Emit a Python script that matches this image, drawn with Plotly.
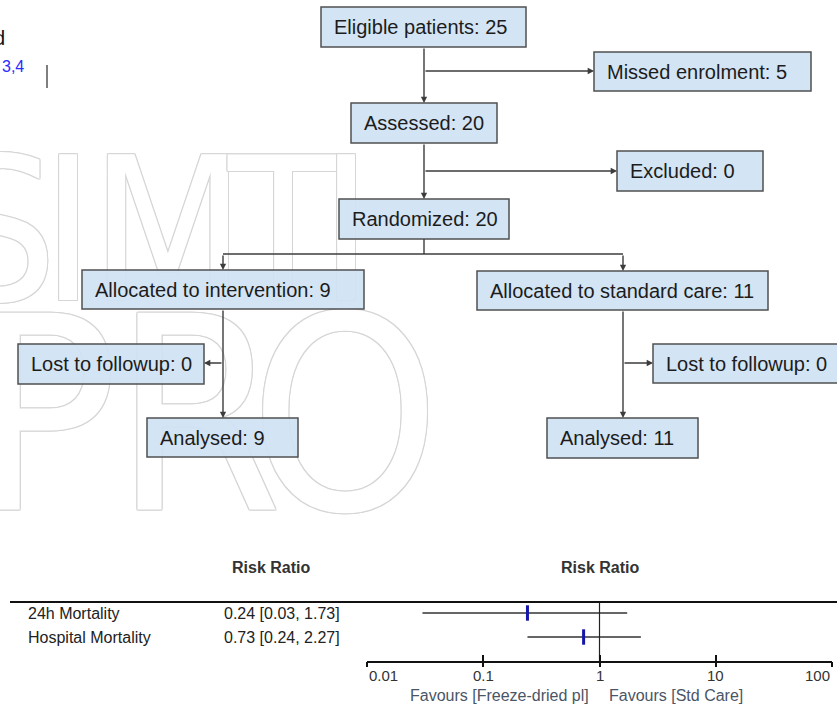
import math
import plotly.graph_objects as go

W, H = 837, 705

# ---------------- data ----------------
flow_labels = ["Eligible patients", "Missed enrolment", "Assessed", "Excluded",
               "Randomized", "Allocated to intervention", "Allocated to standard care",
               "Lost to followup", "Lost to followup", "Analysed", "Analysed"]
flow_counts = [25, 5, 20, 0, 20, 9, 11, 0, 0, 9, 11]

studies = ["24h Mortality", "Hospital Mortality"]
rr = [0.24, 0.73]
ci_lo = [0.03, 0.24]
ci_hi = [1.73, 2.27]

tick_vals = [0.01, 0.1, 1, 10, 100]
tick_text = ["0.01", "0.1", "1", "10", "100"]

watermark_words = ["SIMTI", "PRO"]

# ---------------- layout geometry (pixels) ----------------
boxes = [
    (321, 7, 526, 47),
    (594, 52, 811, 91),
    (351, 103, 497, 143),
    (617, 151, 763, 191),
    (339, 199, 509, 239),
    (82, 270, 364, 309),
    (477, 271, 768, 310),
    (18, 344, 204, 384),
    (653, 344, 850, 383),
    (147, 418, 298, 457),
    (547, 418, 698, 458),
]

def px(x):
    return x / W

def py(y):
    return 1 - y / H

fig = go.Figure()

# ---------- watermark (drawn under the boxes) ----------
wm_color = "#d6d6d6"
shadow = ", ".join(f"{dx}px {dy}px 0 {wm_color}" for dx, dy in
                   [(1, 0), (-1, 0), (0, 1), (0, -1), (1, 1), (-1, -1), (1, -1), (-1, 1)])
wm_letter_x = [[0, 68, 168, 283, 346], [45, 198, 345]]
wm_y = [250, 442]
wm_size = [200, 270]
for word, xs, yc, sz in zip(watermark_words, wm_letter_x, wm_y, wm_size):
    fig.add_trace(go.Scatter(
        x=xs, y=[yc] * len(xs), text=list(word), mode="text",
        textposition="middle center",
        textfont=dict(size=sz, color="white", shadow=shadow,
                      family="Liberation Sans Narrow, DejaVu Sans Condensed, Liberation Sans"),
        hoverinfo="skip", showlegend=False, xaxis="x", yaxis="y"))

# ---------- flow boxes ----------
shapes = []
annotations = []
box_fill = "rgba(207,226,243,0.92)"
box_line = "#505050"
for (x0, y0, x1, y1), lab, n in zip(boxes, flow_labels, flow_counts):
    shapes.append(dict(type="rect", xref="x", yref="y", x0=x0, y0=y0, x1=x1, y1=y1,
                       fillcolor=box_fill, line=dict(color=box_line, width=1.5), layer="above"))
    annotations.append(dict(xref="x", yref="y", x=x0 + 11, y=(y0 + y1) / 2,
                            text=f"{lab}: {n}", showarrow=False, xanchor="left", yanchor="middle",
                            font=dict(family="Liberation Sans, Arial", size=20, color="#1c1c1c")))

line_col = "#3c3c3c"

def seg(x0, y0, x1, y1):
    shapes.append(dict(type="line", xref="x", yref="y", x0=x0, y0=y0, x1=x1, y1=y1,
                       line=dict(color=line_col, width=1.4), layer="above"))

def arrow(x0, y0, x1, y1):
    annotations.append(dict(xref="x", yref="y", axref="x", ayref="y", x=x1, y=y1, ax=x0, ay=y0,
                            text="", showarrow=True, arrowhead=2, arrowsize=0.9, arrowwidth=1.4,
                            arrowcolor=line_col, standoff=0, startstandoff=0))

arrow(424, 47, 424, 103)
arrow(424, 71, 594, 71)
arrow(424, 143, 424, 199)
arrow(424, 171, 617, 171)
seg(424, 239, 424, 254)
seg(223, 254, 623, 254)
arrow(223, 254, 223, 270)
arrow(623, 254, 623, 271)
arrow(223, 309, 223, 418)
arrow(223, 363, 204, 363)
arrow(623, 310, 623, 418)
arrow(623, 363, 653, 363)

# cropped text fragments at top-left
annotations.append(dict(xref="paper", yref="paper", x=px(7), y=py(38), text="d", showarrow=False,
                        xanchor="right", yanchor="middle",
                        font=dict(family="Liberation Sans, Arial", size=20, color="#111")))
annotations.append(dict(xref="paper", yref="paper", x=px(0), y=py(66), text="3,4", showarrow=False,
                        xanchor="left", yanchor="middle",
                        font=dict(family="Liberation Sans, Arial", size=16, color="#2a2aff")))
shapes.append(dict(type="line", xref="paper", yref="paper", x0=px(47), x1=px(47), y0=py(65), y1=py(88),
                   line=dict(color="#555", width=1.5)))

# ---------------- forest plot ----------------
fx0, fx1 = 367, 832
fy_top, fy_axis = 602, 661
row_y = [613, 637]
step = row_y[1] - row_y[0]
r_bottom = (fy_axis - row_y[0]) / step
r_top = (fy_top - row_y[0]) / step

ci_x, ci_y = [], []
for i, (lo, hi) in enumerate(zip(ci_lo, ci_hi)):
    ci_x += [lo, hi, None]
    ci_y += [i, i, None]
fig.add_trace(go.Scatter(x=ci_x, y=ci_y, mode="lines", line=dict(color="#333", width=1.5),
                         xaxis="x2", yaxis="y2", showlegend=False, hoverinfo="skip"))
fig.add_trace(go.Scatter(x=[1, 1], y=[r_top, r_bottom], mode="lines", line=dict(color="#222", width=1.2),
                         xaxis="x2", yaxis="y2", showlegend=False, hoverinfo="skip"))
fig.add_trace(go.Scatter(x=rr, y=list(range(len(rr))), mode="markers",
                         marker=dict(symbol="line-ns", size=11, line=dict(color="#1515a8", width=3)),
                         xaxis="x2", yaxis="y2", showlegend=False, hoverinfo="skip"))

txt_font = dict(family="Liberation Sans, Arial", size=16, color="#222")
for i, (s, r, lo, hi) in enumerate(zip(studies, rr, ci_lo, ci_hi)):
    annotations.append(dict(xref="paper", yref="y2", x=px(26), y=i, text=s, showarrow=False,
                            xanchor="left", yanchor="middle", font=txt_font))
    annotations.append(dict(xref="paper", yref="y2", x=px(222), y=i,
                            text=f"{r:.2f} [{lo:.2f}, {hi:.2f}]", showarrow=False,
                            xanchor="left", yanchor="middle", font=txt_font))

hdr_font = dict(family="Liberation Sans, Arial", size=16, color="#333")
annotations.append(dict(xref="paper", yref="paper", x=px(271), y=py(567), text="<b>Risk Ratio</b>",
                        showarrow=False, xanchor="center", yanchor="middle", font=hdr_font))
annotations.append(dict(xref="x2", yref="paper", x=0, y=py(567), text="<b>Risk Ratio</b>",
                        showarrow=False, xanchor="center", yanchor="middle", font=hdr_font))

for k, (tv, tt) in enumerate(zip(tick_vals, tick_text)):
    anchor = "left" if k == 0 else ("right" if k == len(tick_vals) - 1 else "center")
    annotations.append(dict(xref="x2", yref="paper", x=math.log10(tv), y=py(675), text=tt,
                            showarrow=False, xanchor=anchor, yanchor="middle",
                            font=dict(family="Liberation Sans, Arial", size=15, color="#333")))

fav_font = dict(family="Liberation Sans, Arial", size=16, color="#4a5566")
annotations.append(dict(xref="paper", yref="paper", x=px(591), y=py(695),
                        text="Favours [Freeze-dried pl]", showarrow=False,
                        xanchor="right", yanchor="middle", font=fav_font))
annotations.append(dict(xref="paper", yref="paper", x=px(607), y=py(695),
                        text="Favours [Std Care]", showarrow=False,
                        xanchor="left", yanchor="middle", font=fav_font))

shapes.append(dict(type="line", xref="paper", yref="paper", x0=px(10), x1=1.0, y0=py(fy_top), y1=py(fy_top),
                   line=dict(color="#111", width=2)))

fig.update_layout(
    width=W, height=H, margin=dict(l=0, r=0, t=0, b=0),
    paper_bgcolor="white", plot_bgcolor="rgba(0,0,0,0)",
    showlegend=False,
    xaxis=dict(range=[0, W], domain=[0, 1], visible=False, fixedrange=True),
    yaxis=dict(range=[H, 0], domain=[0, 1], visible=False, fixedrange=True),
    xaxis2=dict(type="log", range=[-2, 2], domain=[px(fx0), px(fx1)], anchor="y2",
                showline=True, linecolor="#111", linewidth=2, ticks="inside", ticklen=6,
                tickwidth=2, tickcolor="#111", tickvals=tick_vals, showticklabels=False,
                showgrid=False, zeroline=False),
    xaxis3=dict(type="log", range=[-2, 2], domain=[px(fx0), px(fx1)], anchor="y2", overlaying="x2",
                showline=False, ticks="outside", ticklen=5, tickwidth=2, tickcolor="#111",
                tickvals=tick_vals, showticklabels=False, showgrid=False, zeroline=False),
    yaxis2=dict(range=[r_bottom, r_top], domain=[py(fy_axis), py(fy_top)], visible=False,
                anchor="x2"),
    shapes=shapes, annotations=annotations,
)
fig.add_trace(go.Scatter(x=[], y=[], xaxis="x3", yaxis="y2", showlegend=False))

fig.write_html("out.html", config={"displayModeBar": False},
               post_script="document.body.style.margin='0';document.body.style.overflow='hidden';")
